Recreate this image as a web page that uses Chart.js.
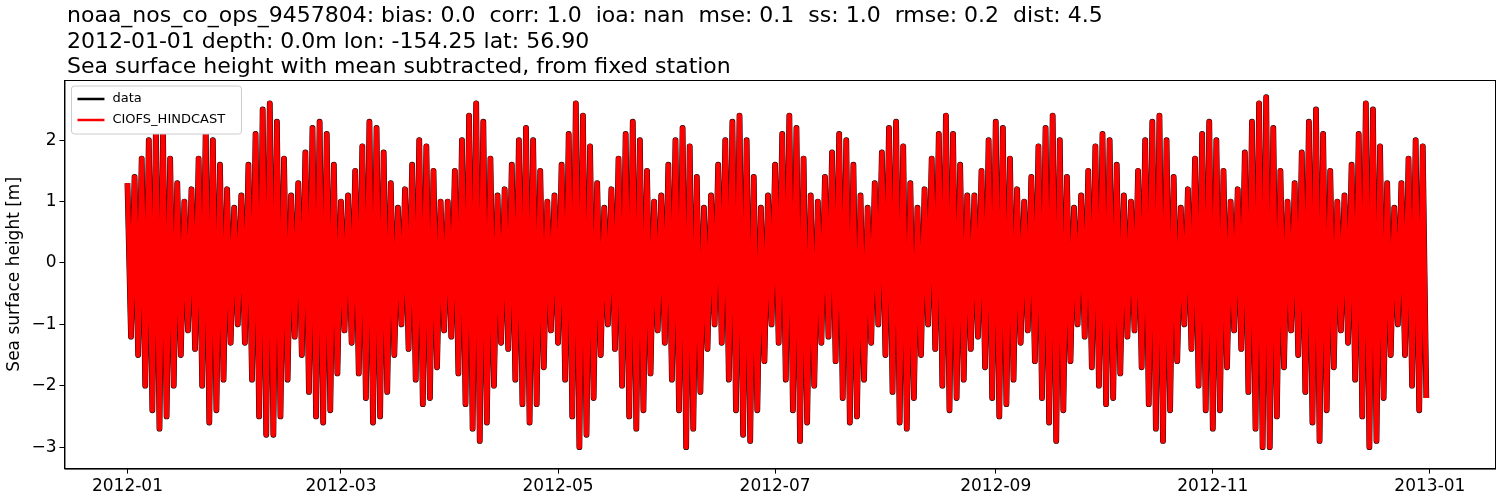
<!DOCTYPE html><html><head><script src="https://cdn.jsdelivr.net/npm/chart.js@4"></script>
<style>body{margin:0;background:#fff}</style></head><body><canvas id="c" width="1500" height="500"></canvas>
<script>
const titleLines=["noaa_nos_co_ops_9457804: bias: 0.0  corr: 1.0  ioa: nan  mse: 0.1  ss: 1.0  rmse: 0.2  dist: 4.5","2012-01-01 depth: 0.0m lon: -154.25 lat: 56.90","Sea surface height with mean subtracted, from fixed station"];
const tickDays=[0,60,121,182,244,305,366];
const tickLabels=["2012-01","2012-03","2012-05","2012-07","2012-09","2012-11","2013-01"];
const highs=[1.3,1.4,1.7,2.0,2.2,2.1,1.7,1.3,1.0,1.2,1.7,2.2,2.0,1.6,1.2,0.9,1.1,1.6,2.1,2.5,2.6,2.3,1.7,1.1,1.3,1.8,2.2,2.3,2.1,1.6,1.0,1.1,1.5,1.9,2.3,2.2,1.8,1.3,0.9,1.2,1.6,2.0,1.9,1.5,1.0,1.0,1.5,2.0,2.4,2.6,2.3,1.7,1.1,1.2,1.6,2.0,2.2,2.0,1.5,1.0,1.1,1.6,2.1,2.6,2.4,1.9,1.3,0.9,1.2,1.7,2.1,2.3,2.0,1.5,1.0,1.1,1.6,2.0,2.2,1.9,1.4,0.9,1.1,1.6,2.0,2.3,2.4,2.0,1.4,0.9,1.1,1.6,2.1,2.4,2.2,1.7,1.1,1.0,1.4,1.8,2.1,2.0,1.6,1.1,0.9,1.3,1.8,2.2,2.3,1.9,1.3,0.9,1.2,1.7,2.1,2.4,2.1,1.6,1.1,1.1,1.5,2.0,2.3,2.2,1.7,1.2,1.0,1.4,1.9,2.2,2.4,2.0,1.4,0.9,1.1,1.5,1.9,2.1,2.0,1.6,1.1,1.0,1.5,2.0,2.3,2.4,2.0,1.4,0.9,1.2,1.7,2.1,2.3,2.0,1.5,1.0,1.2,1.8,2.3,2.6,2.7,2.2,1.5,1.0,1.3,1.8,2.3,2.5,2.1,1.5,1.0,1.1,1.6,2.1,2.6,2.5,1.9,1.3,0.9,1.3,1.7,2.0,1.9];
const lows=[-1.2,-1.5,-2.0,-2.4,-2.7,-2.5,-2.0,-1.5,-1.1,-1.4,-2.0,-2.6,-2.4,-1.9,-1.3,-1.0,-1.3,-1.9,-2.5,-2.8,-2.8,-2.5,-1.9,-1.2,-1.5,-2.1,-2.5,-2.6,-2.4,-1.8,-1.1,-1.3,-1.8,-2.2,-2.6,-2.5,-2.1,-1.5,-1.0,-1.4,-1.9,-2.3,-2.2,-1.7,-1.1,-1.2,-1.8,-2.3,-2.7,-2.9,-2.6,-2.0,-1.3,-1.4,-1.9,-2.3,-2.6,-2.3,-1.7,-1.1,-1.3,-1.9,-2.5,-3.0,-2.8,-2.2,-1.5,-1.0,-1.4,-2.0,-2.5,-2.7,-2.4,-1.8,-1.1,-1.3,-1.9,-2.4,-3.0,-2.7,-2.1,-1.4,-1.0,-1.3,-1.9,-2.4,-2.8,-2.9,-2.4,-1.6,-1.0,-1.3,-1.9,-2.4,-2.9,-2.6,-2.0,-1.3,-1.2,-1.6,-2.2,-2.6,-2.5,-1.9,-1.3,-1.0,-1.5,-2.1,-2.6,-2.7,-2.2,-1.5,-1.0,-1.4,-2.0,-2.4,-2.2,-1.9,-1.4,-1.2,-1.7,-2.2,-2.5,-2.3,-1.9,-1.3,-1.1,-1.6,-2.2,-2.6,-2.9,-2.4,-1.6,-1.0,-1.2,-1.7,-2.0,-2.3,-2.2,-1.8,-1.2,-1.1,-1.7,-2.3,-2.7,-2.9,-2.4,-1.6,-1.0,-1.4,-2.0,-2.4,-2.7,-2.4,-1.7,-1.1,-1.4,-2.1,-2.7,-3.0,-3.0,-2.5,-1.7,-1.1,-1.5,-2.1,-2.6,-2.9,-2.4,-1.7,-1.1,-1.3,-1.9,-2.5,-3.0,-2.9,-2.2,-1.5,-1.0,-1.5,-2.0,-2.4,-2.2];
const pts=[];
const n=Math.min(highs.length,lows.length);
for(let i=0;i<n;i++){pts.push({x:2*i,y:highs[i]});pts.push({x:2*i+1,y:lows[i]});}
const F="DejaVu Sans";
const deco={id:'deco',afterDraw(ch){const c=ch.ctx,a=ch.chartArea;c.save();
c.strokeStyle='#000';c.lineWidth=1;c.strokeRect(a.left+0.5,a.top+0.5,a.right-a.left,a.bottom-a.top);
c.fillStyle='#000';c.font='22px '+F;c.textBaseline='alphabetic';
titleLines.forEach((t,k)=>c.fillText(t,67,22+k*25.5));
c.fillStyle='#fff';c.strokeStyle='#ccc';c.lineWidth=1;c.beginPath();c.roundRect(a.left+7,a.top+6,170,48,3);c.fill();c.stroke();
[['data','#000'],['CIOFS_HINDCAST','#f00']].forEach((e,k)=>{const y=a.top+19+k*21;c.strokeStyle=e[1];c.lineWidth=2.5;c.beginPath();c.moveTo(a.left+13,y);c.lineTo(a.left+40,y);c.stroke();c.fillStyle='#000';c.font='13px '+F;c.textBaseline='middle';c.fillText(e[0],a.left+48,y);});
c.restore();}};
const grid={display:true,drawOnChartArea:false,color:'#000',tickLength:5,tickWidth:1};
new Chart(document.getElementById('c'),{type:'line',
data:{datasets:[
{label:'CIOFS_HINDCAST',data:pts,borderColor:'#f00',borderWidth:5,pointRadius:0,tension:0,order:1,borderJoinStyle:'round'},
{label:'data',data:pts,borderColor:'#000',borderWidth:5.8,pointRadius:0,tension:0,order:2,borderJoinStyle:'round'}]},
plugins:[deco],
options:{responsive:false,animation:false,devicePixelRatio:1,
layout:{padding:{left:0,right:5,top:80,bottom:0}},
plugins:{legend:{display:false},tooltip:{enabled:false},title:{display:false}},
scales:{x:{type:'linear',min:-17.7,max:384.3,grid:grid,border:{color:'#000'},
afterBuildTicks(ax){ax.ticks=tickDays.map(v=>({value:v}));},
ticks:{color:'#000',font:{family:F,size:17},callback:(v)=>tickLabels[tickDays.indexOf(v)]??'',maxRotation:0,autoSkip:false}},
y:{min:-3.35,max:2.98,grid:grid,border:{color:'#000'},
afterBuildTicks(ax){ax.ticks=[-3,-2,-1,0,1,2].map(v=>({value:v}));},
title:{display:true,text:'Sea surface height [m]',color:'#000',font:{family:F,size:17}},
ticks:{color:'#000',font:{family:F,size:17},callback:v=>v.toString().replace('-','−')}}}}});
</script></body></html>
